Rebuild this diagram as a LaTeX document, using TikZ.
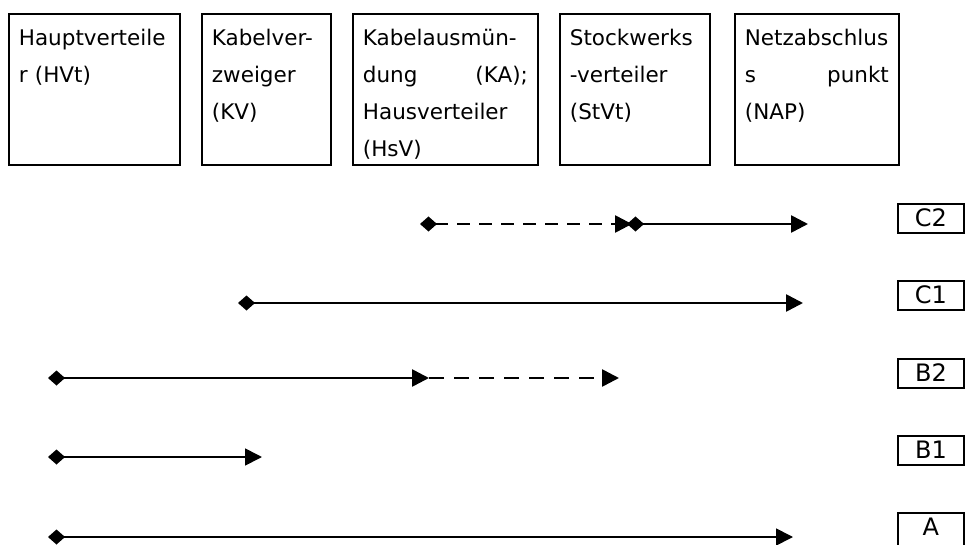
\documentclass[tikz,border=0pt]{standalone}
\usepackage{fontspec}
\setmainfont{DejaVu Sans}
\usepackage{tikz}
\usetikzlibrary{positioning,arrows.meta}

\begin{document}
\begin{tikzpicture}[
    x=1pt, y=-1pt,
    box/.style={rectangle, draw, line width=1.8pt, anchor=north west, align=left,
        inner xsep=10pt, inner ysep=0pt, text height=32pt, text depth=119pt,
        font=\fontsize{21.5}{37}\selectfont},
    tag/.style={rectangle, draw, line width=1.8pt, anchor=north west, inner ysep=0pt,
        minimum width=66pt, text height=23pt, text depth=6pt,
        font=\fontsize{24}{28}\selectfont},
    flow/.style={line width=2.6pt, {Diamond[length=17pt,width=15pt]}-{Triangle[length=17pt,width=17pt]}},
    thinflow/.style={flow, line width=1.7pt},
    part/.style={line width=2.6pt, dash pattern=on 15pt off 10pt, -{Triangle[length=17pt,width=17pt]}}
]
\useasboundingbox (0,0) rectangle (965,545);

% Network elements
\node[box, text width=151pt] (hvt) at (8,13) {Hauptverteile\\r (HVt)};
\node[box, text width=109pt] (kv) at (201,13) {Kabelver-\\zweiger\\(KV)};
\node[box, text width=165pt] (ka) at (352,13) {Kabelausmün-\\dung\hfill(KA);\\Hausverteiler\\(HsV)};
\node[box, text width=130pt] (stvt) at (559,13) {Stockwerks\\-verteiler\\(StVt)};
\node[box, text width=144pt] (nap) at (734,13) {Netzabschlus\\s\hfill punkt\\(NAP)};

% Variants
\node[tag] (c2) at (897,203) {C2};
\node[tag] (c1) at (897,280) {C1};
\node[tag] (b2) at (897,358) {B2};
\node[tag] (b1) at (897,435) {B1};
\node[tag, text depth=20pt] (a) at (897,512) {A};

% End points
\coordinate (c2s) at (420,224);
\coordinate (c2m) at (632,224);
\coordinate (c2n) at (627,224);
\coordinate (c2e) at (808,224);
\coordinate (c1s) at (238,303);
\coordinate (c1e) at (803,303);
\coordinate (b2s) at (48,378);
\coordinate (b2m) at (429,378);
\coordinate (b2e) at (619,378);
\coordinate (b1s) at (48,457);
\coordinate (b1e) at (262,457);
\coordinate (as) at (48,537);
\coordinate (ae) at (793,537);

% Arrows
\draw[flow, dash pattern=on 13pt off 9pt] (c2s) -- (c2m);
\draw[flow] (c2n) -- (c2e);
\draw[flow] (c1s) -- (c1e);
\draw[part] (b2m) -- (b2e);
\draw[flow] (b2s) -- (b2m);
\draw[thinflow] (b1s) -- (b1e);
\draw[thinflow] (as) -- (ae);

\end{tikzpicture}
\end{document}
